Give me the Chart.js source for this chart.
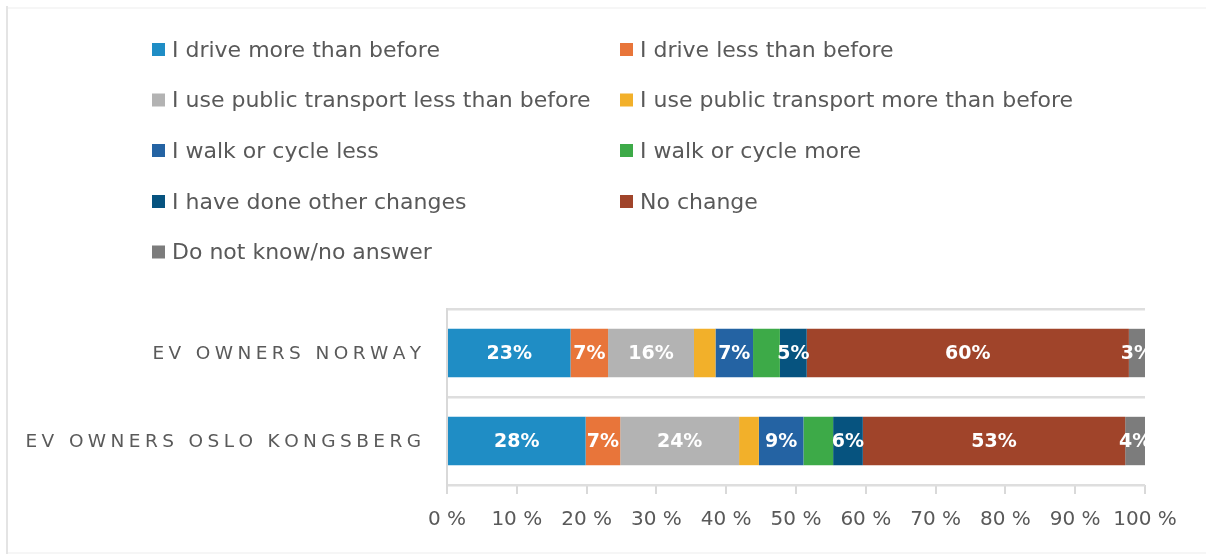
<!DOCTYPE html>
<html>
<head>
<meta charset="utf-8">
<script src="https://cdn.jsdelivr.net/npm/chart.js@4.4.0/dist/chart.umd.min.js"></script>
<style>
  html, body { margin: 0; padding: 0; background: #ffffff; }
  #wrap { position: relative; width: 1206px; height: 554px; }
</style>
</head>
<body>
<div id="wrap"><canvas id="c" width="1206" height="554"></canvas></div>
<script>
// ---- data (values as printed on the bars, in %) ----
const categories = ['EV OWNERS NORWAY', 'EV OWNERS OSLO KONGSBERG'];
const seriesNames = [
  'I drive more than before',
  'I drive less than before',
  'I use public transport less than before',
  'I use public transport more than before',
  'I walk or cycle less',
  'I walk or cycle more',
  'I have done other changes',
  'No change',
  'Do not know/no answer'
];
const driveMore   = [23, 28];
const driveLess   = [7, 7];
const publicLess  = [16, 24];
const publicMore  = [4, 4];
const walkLess    = [7, 9];
const walkMore    = [5, 6];
const otherChange = [5, 6];
const noChange    = [60, 53];
const dontKnow    = [3, 4];
const xTicks = [0, 10, 20, 30, 40, 50, 60, 70, 80, 90, 100];
const labelledSeries = [true, true, true, false, true, false, true, true, true];

// ---- styles ----
const colors = ['#1f8dc5', '#e8753a', '#b3b3b3', '#f2b02a', '#2463a3', '#3daa48', '#06537f', '#a0442a', '#7c7c7c'];
const FONT = 'DejaVu Sans';

const rawSeries = [driveMore, driveLess, publicLess, publicMore, walkLess, walkMore, otherChange, noChange, dontKnow];
// 100% stacked: each bar is scaled to its own total
const totals = categories.map((_, i) => rawSeries.reduce((s, arr) => s + arr[i], 0));
const datasets = rawSeries.map((arr, k) => ({
  label: seriesNames[k],
  data: arr.map((v, i) => v / totals[i] * 100),
  raw: arr,
  backgroundColor: colors[k],
  borderWidth: 0,
  barPercentage: 0.55,
  categoryPercentage: 1.0
}));

const framePlugin = {
  id: 'frame',
  beforeDraw(chart) {
    const ctx = chart.ctx;
    ctx.save();
    ctx.fillStyle = '#e4e4e4';
    ctx.fillRect(6, 6, 2, 548);
    ctx.fillStyle = '#f6f6f6';
    ctx.fillRect(8, 7, 1198, 2);
    ctx.fillRect(8, 552, 1198, 2);
    ctx.restore();
  }
};

const legendPlugin = {
  id: 'gridLegend',
  afterDraw(chart) {
    const ctx = chart.ctx;
    const colX = [152, 620];
    const rowY = [50, 100.5, 151, 202, 252.5];
    ctx.save();
    ctx.font = '22px "' + FONT + '"';
    ctx.textBaseline = 'middle';
    ctx.textAlign = 'left';
    chart.data.datasets.forEach((ds, k) => {
      const x = colX[k % 2];
      const y = rowY[Math.floor(k / 2)];
      ctx.fillStyle = ds.backgroundColor;
      ctx.fillRect(x, y - 7, 13, 13);
      ctx.fillStyle = '#595959';
      ctx.fillText(ds.label, x + 20, y + 1);
    });
    ctx.restore();
  }
};

const catLabelPlugin = {
  id: 'catLabels',
  afterDraw(chart) {
    const ctx = chart.ctx;
    const yScale = chart.scales.y;
    const right = chart.chartArea.left - 26;
    const spacing = 4.4;
    ctx.save();
    ctx.font = '18.5px "' + FONT + '"';
    ctx.fillStyle = '#5a5a5a';
    ctx.textBaseline = 'middle';
    ctx.textAlign = 'left';
    chart.data.labels.forEach((lab, i) => {
      const y = yScale.getPixelForValue(i) + 1;
      const chars = Array.from(lab);
      const widths = chars.map(ch => ctx.measureText(ch).width);
      const total = widths.reduce((a, b) => a + b, 0) + spacing * (chars.length - 1);
      let x = right - total;
      chars.forEach((ch, j) => {
        ctx.fillText(ch, x, y);
        x += widths[j] + spacing;
      });
    });
    ctx.restore();
  }
};

const valueLabelPlugin = {
  id: 'valueLabels',
  afterDatasetsDraw(chart) {
    const ctx = chart.ctx;
    const area = chart.chartArea;
    ctx.save();
    ctx.beginPath();
    ctx.rect(area.left, area.top, area.right - area.left, area.bottom - area.top);
    ctx.clip();
    ctx.font = 'bold 19px "' + FONT + '"';
    ctx.fillStyle = '#ffffff';
    ctx.textAlign = 'center';
    ctx.textBaseline = 'middle';
    chart.data.datasets.forEach((ds, k) => {
      if (!labelledSeries[k]) return;
      const meta = chart.getDatasetMeta(k);
      meta.data.forEach((bar, i) => {
        const cx = (bar.x + bar.base) / 2;
        ctx.fillText(ds.raw[i] + '%', cx, bar.y + 1);
      });
    });
    ctx.restore();
  }
};

new Chart(document.getElementById('c'), {
  type: 'bar',
  data: { labels: categories, datasets },
  options: {
    indexAxis: 'y',
    responsive: false,
    animation: false,
    events: [],
    layout: { padding: { left: 0, right: 61, top: 309, bottom: 0 } },
    plugins: { legend: { display: false }, tooltip: { enabled: false } },
    scales: {
      x: {
        stacked: true,
        min: 0,
        max: 100,
        afterBuildTicks(scale) { scale.ticks = xTicks.map(v => ({ value: v })); },
        afterFit(scale) { scale.height = 69; },
        ticks: {
          callback: v => v + ' %',
          color: '#595959',
          font: { family: FONT, size: 20 },
          padding: 14,
          maxRotation: 0,
          autoSkip: false
        },
        grid: { drawOnChartArea: false, drawTicks: true, tickLength: 9, color: '#d9d9d9', lineWidth: 2 },
        border: { display: false }
      },
      y: {
        stacked: true,
        afterFit(scale) { scale.width = 447; },
        ticks: { display: false },
        grid: { offset: true, drawTicks: false, color: '#dedede', lineWidth: 2.5 },
        border: { display: true, color: '#d9d9d9', width: 2 }
      }
    }
  },
  plugins: [framePlugin, legendPlugin, catLabelPlugin, valueLabelPlugin]
});
</script>
</body>
</html>
